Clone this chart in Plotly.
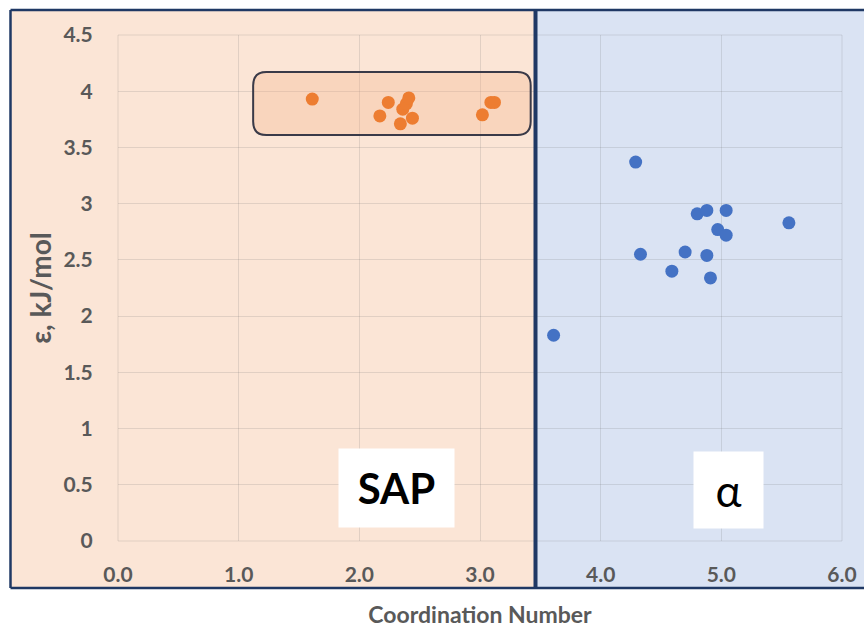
import plotly.graph_objects as go

# Coordination number (x) and interaction energy epsilon (y) for each phase
sap_cn = [1.61, 2.17, 2.24, 2.36, 2.39, 2.41, 2.34, 2.44, 3.02, 3.09, 3.12]
sap_eps = [3.93, 3.78, 3.90, 3.84, 3.89, 3.94, 3.71, 3.76, 3.79, 3.90, 3.90]

alpha_cn = [3.61, 4.29, 4.33, 4.59, 4.70, 4.80, 4.88, 4.88, 4.91, 4.97, 5.04, 5.04, 5.56]
alpha_eps = [1.83, 3.37, 2.55, 2.40, 2.57, 2.91, 2.94, 2.54, 2.34, 2.77, 2.94, 2.72, 2.83]

x_ticks = [0, 1, 2, 3, 4, 5, 6]
x_tick_text = ["0.0", "1.0", "2.0", "3.0", "4.0", "5.0", "6.0"]
y_ticks = [0, 0.5, 1, 1.5, 2, 2.5, 3, 3.5, 4, 4.5]
y_tick_text = ["0", "0.5", "1", "1.5", "2", "2.5", "3", "3.5", "4", "4.5"]

# Figure geometry (pixels)
W, H = 864, 634
L, R, T, B = 118, 22, 35, 93
PW, PH = W - L - R, H - T - B


def px(xp):
    return (xp - L) / PW


def py(yp):
    return (H - B - yp) / PH


ORANGE = "#ED7D31"
BLUE = "#4472C4"
NAVY = "#1F3864"
TXT = "#595959"
FONT = "Lato"
GRID = "rgba(110,110,110,0.18)"

fig = go.Figure()
fig.add_trace(go.Scatter(
    x=sap_cn, y=sap_eps, mode="markers", name="SAP",
    marker=dict(size=13, color=ORANGE, line=dict(width=0)),
))
fig.add_trace(go.Scatter(
    x=alpha_cn, y=alpha_eps, mode="markers", name="α",
    marker=dict(size=13, color=BLUE, line=dict(width=0)),
))

shapes = []
# Tinted phase regions behind the plot
shapes.append(dict(type="rect", xref="paper", yref="paper",
                   x0=px(11), x1=px(535.5), y0=py(588), y1=py(11),
                   fillcolor="#FBE5D6", line=dict(width=0), layer="below"))
shapes.append(dict(type="rect", xref="paper", yref="paper",
                   x0=px(535.5), x1=px(870), y0=py(588), y1=py(11),
                   fillcolor="#DAE3F3", line=dict(width=0), layer="below"))
# Gridlines on the plot edges (plotly skips those)
for (a, b, c, d) in [(0, 0, 0, 1), (1, 0, 1, 1), (0, 0, 1, 0), (0, 1, 1, 1)]:
    shapes.append(dict(type="line", xref="paper", yref="paper",
                       x0=a, y0=b, x1=c, y1=d,
                       line=dict(color=GRID, width=1), layer="below"))
# Frame lines
for (a, b, c, d, w) in [
    (10.5, 10, 870, 10, 2.5),       # top
    (10.5, 10, 10.5, 588, 2.5),     # left
    (10.5, 588, 870, 588, 2.5),     # bottom
    (535.5, 10, 535.5, 588, 4)      # divider between phases
]:
    shapes.append(dict(type="line", xref="paper", yref="paper",
                       x0=px(a), y0=py(b), x1=px(c), y1=py(d),
                       line=dict(color=NAVY, width=w), layer="above"))

# Rounded highlight around the SAP cluster (data units)
bx0, bx1, by0, by1 = 1.12, 3.42, 3.61, 4.17
rx, ry = 0.11, 0.12
path = (f"M {bx0+rx},{by0} L {bx1-rx},{by0} Q {bx1},{by0} {bx1},{by0+ry} "
        f"L {bx1},{by1-ry} Q {bx1},{by1} {bx1-rx},{by1} "
        f"L {bx0+rx},{by1} Q {bx0},{by1} {bx0},{by1-ry} "
        f"L {bx0},{by0+ry} Q {bx0},{by0} {bx0+rx},{by0} Z")
shapes.append(dict(type="path", xref="x", yref="y", path=path,
                   fillcolor="rgba(244,177,131,0.30)",
                   line=dict(color="#3A3A48", width=2), layer="between"))

annotations = [
    dict(x=2.307, y=0.472, xref="x", yref="y", text="<b>SAP</b>",
         showarrow=False, bgcolor="white", width=115, height=78,
         borderpad=0, font=dict(family=FONT, size=42, color="black"),
         xanchor="center", yanchor="middle", valign="middle"),
    dict(x=5.058, y=0.454, xref="x", yref="y", text="α",
         showarrow=False, bgcolor="white", width=69, height=76,
         borderpad=0, font=dict(family=FONT, size=44, color="black"),
         xanchor="center", yanchor="middle", valign="middle"),
]

fig.update_layout(
    width=W, height=H,
    margin=dict(l=L, r=R, t=T, b=B, pad=0),
    paper_bgcolor="white",
    plot_bgcolor="rgba(0,0,0,0)",
    showlegend=False,
    shapes=shapes,
    annotations=annotations,
    font=dict(family=FONT, color=TXT),
    xaxis=dict(
        range=[0, 6], tickmode="array", tickvals=x_ticks, ticktext=x_tick_text,
        showgrid=True, gridcolor=GRID, gridwidth=1, zeroline=False,
        showline=False, ticks="outside", ticklen=15, automargin=False,
        tickcolor="rgba(0,0,0,0)",
        tickfont=dict(family=FONT, size=21, color=TXT, weight="bold"),
        title=dict(text="<b>Coordination Number</b>",
                   font=dict(family=FONT, size=23, color=TXT), standoff=21),
    ),
    yaxis=dict(
        range=[0, 4.5], tickmode="array", tickvals=y_ticks, ticktext=y_tick_text,
        showgrid=True, gridcolor=GRID, gridwidth=1, zeroline=False,
        showline=False, ticks="outside", ticklen=20, automargin=False,
        tickcolor="rgba(0,0,0,0)",
        tickfont=dict(family=FONT, size=21, color=TXT, weight="bold"),
        title=dict(text="<b>ε, kJ/mol</b>",
                   font=dict(family=FONT, size=28, color=TXT), standoff=3),
    ),
)

fig.write_html("out.html")
